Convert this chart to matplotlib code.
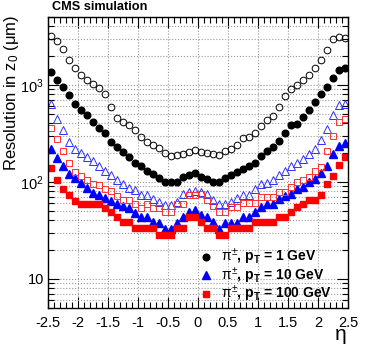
import numpy as np
import matplotlib
matplotlib.use('Agg')
import matplotlib.pyplot as plt
from matplotlib.ticker import MultipleLocator, LogLocator, FixedLocator, FixedFormatter, NullFormatter

# eta bin centres, width 0.1
eta = np.round(np.arange(-2.45, 2.46, 0.1), 2)

# resolution in z0 (um)
# open black circles
res_open_1 = [3160, 2810, 2320, 1790, 1480, 1270, 1120, 1010, 927, 798,
              595, 455, 411, 388, 344, 292, 260, 240, 223, 198,
              186, 191, 193, 203, 213, 203, 197, 195, 189, 208,
              220, 242, 283, 290, 316, 379, 437, 480, 586, 761,
              905, 1000, 1130, 1260, 1500, 1800, 2300, 2940, 3090, 3020]
# pi, pT = 1 GeV
res_1 = [1370, 1130, 942, 779, 634, 556, 483, 414, 361, 315,
         259, 231, 201, 182, 158, 144, 129, 119, 109, 100,
         98.8, 100, 111, 117, 122, 111, 107, 100, 98.8, 109,
         117, 126, 136, 144, 156, 184, 208, 231, 262, 315,
         381, 399, 462, 550, 670, 800, 938, 1180, 1420, 1480]
# open blue triangles
res_open_10 = [638, 449, 346, 260, 216, 200, 180, 162, 147, 129,
               118, 105, 94.2, 87.3, 82.9, 73.6, 73.6, 66.5, 61.9, 58.3,
               58.3, 61.2, 74, 78.5, 81.3, 78.5, 74.3, 65.4, 58.6, 58.6,
               61.9, 68.6, 73.6, 73.6, 84.9, 94.2, 97.2, 104, 117, 129,
               144, 156, 173, 195, 219, 272, 350, 485, 615, 638]
# pi, pT = 10 GeV
res_10 = [218, 177, 144, 119, 109, 97.9, 86.9, 77.2, 73.6, 68.6,
          62.9, 58.6, 55.9, 54.1, 48, 43.4, 43.4, 38.2, 37.6, 32.8,
          32.8, 37.9, 43.4, 48.8, 50.6, 45.1, 43.4, 38.5, 32.8, 37.6,
          37.6, 37.6, 43.4, 43.4, 48.8, 55, 58.6, 58.6, 67, 70.9,
          75.4, 84.9, 88.4, 99.5, 108, 123, 144, 192, 234, 251]
# open red squares
res_open_100 = [359, 278, 208, 156, 126, 115, 104, 94.2, 93.3, 84.9,
                79.8, 71.4, 64.5, 64.5, 58.6, 53.7, 59.0, 53.7, 53.7, 48.8,
                48.8, 59.0, 59.0, 72.6, 72.6, 75.4, 64.5, 56.3, 48.8, 48.8,
                55.0, 55.0, 60.5, 60.5, 60.5, 69.7, 69.7, 69.7, 78.5, 78.5,
                88.4, 99.5, 104, 112, 129, 142, 210, 300, 409, 449]
# pi, pT = 100 GeV
res_100 = [140, 105, 84.9, 73.6, 63.4, 58.6, 58.6, 58.6, 58.6, 53.7,
           48.3, 43.4, 38.1, 38.1, 33.4, 33.4, 33.4, 33.4, 28.5, 28.5,
           28.5, 33.4, 33.4, 43.4, 43.4, 38.5, 33.4, 33.4, 28.5, 28.5,
           33.4, 33.4, 33.4, 33.4, 38.5, 38.5, 38.5, 38.5, 43.4, 43.4,
           48.8, 55.0, 58.6, 64.2, 64.2, 73.6, 94.2, 115, 148, 180]

xticklabels = ['-2.5', '-2', '-1.5', '-1', '-0.5', '0', '0.5', '1', '1.5', '2', '2.5']

plt.rcParams['font.family'] = ['Liberation Sans', 'DejaVu Sans']
plt.rcParams['mathtext.fontset'] = 'custom'
plt.rcParams['mathtext.rm'] = 'Liberation Sans'
plt.rcParams['mathtext.it'] = 'Liberation Sans'
plt.rcParams['mathtext.bf'] = 'Liberation Sans:bold'
plt.rcParams['axes.unicode_minus'] = False

fig = plt.figure(figsize=(3.74, 3.55), dpi=100)
ax = fig.add_axes([48 / 374, 1 - 308 / 355, 300 / 374, 291 / 355])

ms = 4.8
ax.plot(eta, res_open_1, 'o', ms=ms, mfc='none', mec='black', mew=0.7)
ax.plot(eta, res_1, 'o', ms=ms, color='black',
        label=r'$\pi^{\pm}$, $\mathbf{p}_\mathbf{T}$ = 1 GeV')
ax.plot(eta, res_open_10, '^', ms=ms + 0.4, mfc='none', mec='#3030ff', mew=0.7)
ax.plot(eta, res_10, '^', ms=ms + 0.4, color='#0000ff',
        label=r'$\pi^{\pm}$, $\mathbf{p}_\mathbf{T}$ = 10 GeV')
ax.plot(eta, res_open_100, 's', ms=ms, mfc='none', mec='#ff3030', mew=0.7)
ax.plot(eta, res_100, 's', ms=ms, color='#ff0000',
        label=r'$\pi^{\pm}$, $\mathbf{p}_\mathbf{T}$ = 100 GeV')

# axes, ROOT-like ticks
ax.set_yscale('log')
ax.set_xlim(-2.5, 2.5)
ax.set_ylim(5, 5000)
ax.xaxis.set_major_locator(MultipleLocator(0.5))
ax.xaxis.set_minor_locator(MultipleLocator(0.1))
ax.yaxis.set_major_locator(FixedLocator([10, 100, 1000]))
ax.yaxis.set_major_formatter(FixedFormatter(['10', r'$10^{2}$', r'$10^{3}$']))
ax.yaxis.set_minor_locator(LogLocator(base=10, subs=np.arange(2, 10)))
ax.yaxis.set_minor_formatter(NullFormatter())
ax.set_xticks(np.arange(-2.5, 2.51, 0.5))
ax.set_xticklabels(xticklabels)
ax.tick_params(which='both', direction='in', top=True, right=True, labelsize=10.5)
ax.tick_params(which='major', length=8, width=0.8)
ax.tick_params(which='minor', length=4.5, width=0.8)
ax.tick_params(axis='x', pad=6)
ax.tick_params(axis='y', pad=3)
ax.grid(True, which='major', axis='x', color='#999999', ls=':', lw=0.8)
ax.grid(True, which='both', axis='y', color='#999999', ls=':', lw=0.8)
for s in ax.spines.values():
    s.set_linewidth(1.0)

ax.legend(loc='upper left', bbox_to_anchor=(199 / 374, 1 - 247 / 355),
          bbox_transform=fig.transFigure, frameon=False,
          prop={'weight': 'bold', 'size': 10}, handlelength=1.0,
          handletextpad=0.6, borderpad=0, borderaxespad=0, labelspacing=-0.13)

fig.text(12 / 374, 1 - 15 / 355, r'Resolution in z$_0$ ($\mu$m)', rotation=90,
         ha='center', va='top', fontsize=12)
fig.text(52 / 374, 1 - 7.5 / 355, 'CMS simulation', fontweight='bold',
         fontsize=9.2, ha='left', va='center')
fig.text(347 / 374, 1 - 340 / 355, 'η', fontsize=15, ha='right', va='baseline')

fig.savefig('out.png', dpi=100)
